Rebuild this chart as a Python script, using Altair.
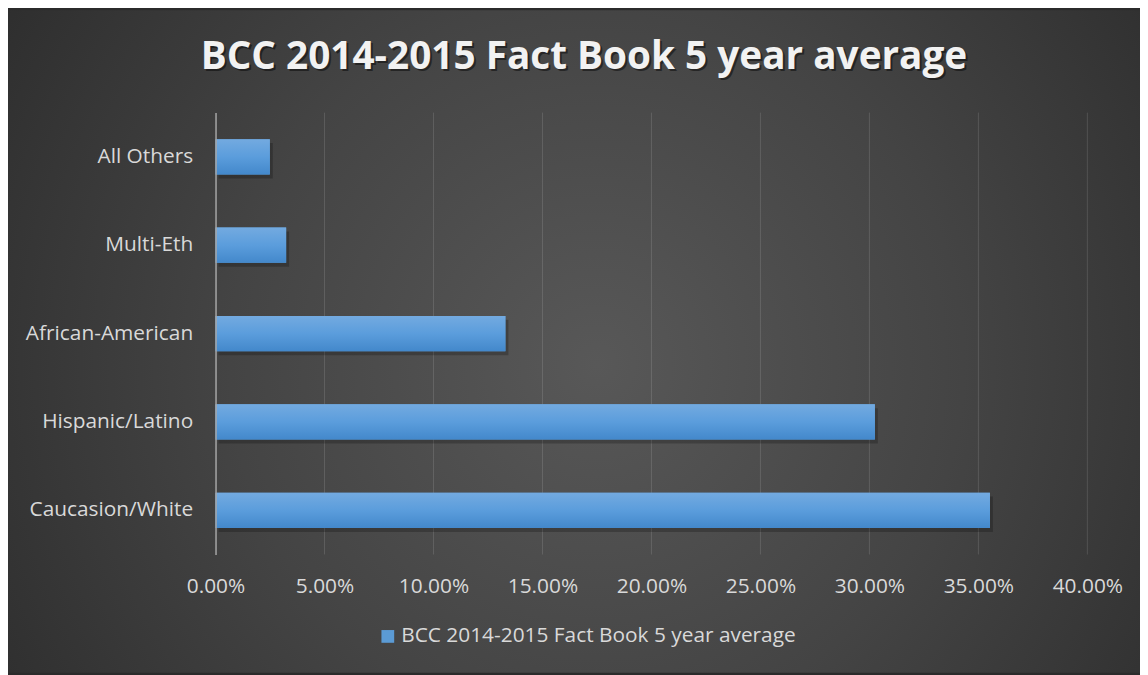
import altair as alt
import pandas as pd

# ---- data ----
categories = ["All Others", "Multi-Eth", "African-American", "Hispanic/Latino", "Caucasion/White"]
values = [0.0249, 0.0324, 0.1330, 0.3025, 0.3553]
series_name = "BCC 2014-2015 Fact Book 5 year average"
chart_title = "BCC 2014-2015 Fact Book 5 year average"
x_ticks = [0.0, 0.05, 0.10, 0.15, 0.20, 0.25, 0.30, 0.35, 0.40]
grid_ticks = [0.05, 0.10, 0.15, 0.20, 0.25, 0.30, 0.35, 0.40]

df = pd.DataFrame({"category": categories, "value": values, "series": [series_name] * len(categories)})
grid_df = pd.DataFrame({"value": grid_ticks})
one = pd.DataFrame({"a": [0]})
title_df = pd.DataFrame({"t": [chart_title]})

# ---- layout ----
W, H = 878, 445
PL, PT, PR, PB = 209, 103, 53, 119
FONT = "Open Sans"
LABEL = "#d9d9d9"

x_enc = alt.X(
    "value:Q",
    scale=alt.Scale(domain=[0, 0.4], nice=False, zero=True),
    axis=alt.Axis(
        format=".2%", values=x_ticks, grid=False, domain=False, ticks=False,
        labelPadding=21, labelFontSize=21, labelColor=LABEL, labelFont=FONT,
        labelFlush=False, labelOverlap=False, title=None, zindex=1,
    ),
)
y_enc = alt.Y(
    "category:N",
    sort=categories,
    scale=alt.Scale(paddingInner=0.6, paddingOuter=0.3),
    axis=alt.Axis(
        title=None, ticks=False, grid=False, domainColor="#a6a6a6", domainWidth=1.5,
        labelColor=LABEL, labelFontSize=21, labelFont=FONT, labelPadding=23, zindex=1,
        labelLimit=0,
    ),
)

bg = alt.Chart(one).mark_rect(
    fill={
        "gradient": "radial",
        "x1": 0.52, "y1": 0.52, "r1": 0,
        "x2": 0.52, "y2": 0.52, "r2": 0.72,
        "stops": [
            {"offset": 0, "color": "#585858"},
            {"offset": 0.45, "color": "#444444"},
            {"offset": 1, "color": "#262626"},
        ],
    }
).encode(
    x=alt.value(-PL), x2=alt.value(W + PR), y=alt.value(-PT), y2=alt.value(H + PB)
)

title_shadow = alt.Chart(title_df).mark_text(
    font=FONT, fontSize=39, fontWeight="bold", color="#000000", opacity=0.45,
    align="center", baseline="alphabetic", dx=2, dy=2,
).encode(text="t:N", x=alt.value(580 - PL), y=alt.value(67 - 8 - PT))

title = alt.Chart(title_df).mark_text(
    font=FONT, fontSize=39, fontWeight="bold", color="#f2f2f2",
    align="center", baseline="alphabetic",
).encode(text="t:N", x=alt.value(580 - PL), y=alt.value(67 - 8 - PT))

grid = alt.Chart(grid_df).mark_rule(color="#ffffff", opacity=0.13, strokeWidth=1).encode(
    x=x_enc, y=alt.value(0), y2=alt.value(H)
)

shadow = alt.Chart(df).mark_bar(color="#000000", opacity=0.22, xOffset=3, yOffset=4).encode(
    x=x_enc, y=y_enc
)

bars_solid = alt.Chart(df).mark_bar().encode(
    x=x_enc,
    y=y_enc,
    color=alt.Color(
        "series:N",
        scale=alt.Scale(range=["#5b9bd5"]),
        legend=alt.Legend(
            title=None, orient="none", legendX=163, legendY=517, symbolType="square",
            symbolSize=165, labelFontSize=21, labelColor=LABEL, labelFont=FONT,
            padding=0, labelOffset=3, symbolStrokeWidth=0, symbolOpacity=1, labelLimit=0,
        ),
    ),
)

bars_grad = alt.Chart(df).mark_bar(
    fill={
        "gradient": "linear", "x1": 0, "y1": 0, "x2": 0, "y2": 1,
        "stops": [
            {"offset": 0, "color": "#73aae0"},
            {"offset": 0.5, "color": "#5b9ddc"},
            {"offset": 1, "color": "#4388cb"},
        ],
    }
).encode(x=x_enc, y=y_enc)

chart = alt.layer(bg, grid, shadow, bars_solid, bars_grad, title_shadow, title).properties(
    width=W,
    height=H,
    padding={"left": PL, "top": PT, "right": PR, "bottom": PB},
    autosize=alt.AutoSizeParams(type="none"),
    background="#2b2b2b",
).configure_view(stroke=None)

chart.save("out.html", embed_options={"renderer": "svg", "actions": False})
